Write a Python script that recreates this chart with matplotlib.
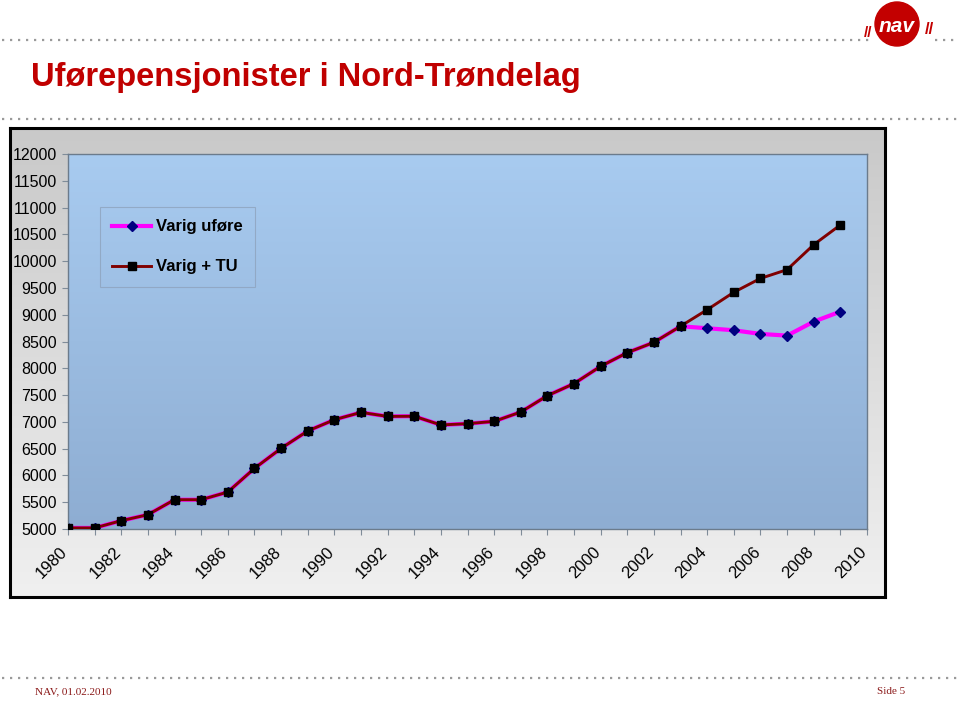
import matplotlib
matplotlib.use('Agg')
import matplotlib.pyplot as plt
import matplotlib.transforms as mtransforms
from matplotlib.patches import Circle
import numpy as np

# data
years = [1980, 1981, 1982, 1983, 1984, 1985, 1986, 1987, 1988, 1989,
         1990, 1991, 1992, 1993, 1994, 1995, 1996, 1997, 1998, 1999,
         2000, 2001, 2002, 2003, 2004, 2005, 2006, 2007, 2008, 2009]
varig_tu = [5020, 5020, 5155, 5267, 5547, 5547, 5690, 6131, 6505, 6830,
            7040, 7177, 7102, 7105, 6942, 6966, 7009, 7184, 7489, 7714,
            8037, 8292, 8484, 8785, 9094, 9419, 9678, 9841, 10307, 10676]
varig_ufore = [5020, 5020, 5155, 5267, 5547, 5547, 5690, 6131, 6505, 6830,
               7040, 7177, 7102, 7105, 6942, 6966, 7009, 7184, 7489, 7714,
               8037, 8292, 8484, 8785, 8747, 8710, 8641, 8610, 8871, 9058]
axis_years = [1980, 1981, 1982, 1983, 1984, 1985, 1986, 1987, 1988, 1989,
              1990, 1991, 1992, 1993, 1994, 1995, 1996, 1997, 1998, 1999,
              2000, 2001, 2002, 2003, 2004, 2005, 2006, 2007, 2008, 2009, 2010]
y_ticks = [5000, 5500, 6000, 6500, 7000, 7500, 8000, 8500, 9000, 9500,
           10000, 10500, 11000, 11500, 12000]

W, H = 959, 702
plt.rcParams['font.family'] = ['Liberation Sans', 'DejaVu Sans']

fig = plt.figure(figsize=(W / 100, H / 100), dpi=100)
fig.patch.set_facecolor('white')

def fx(px):
    return px / W

def fy(py):
    return 1 - py / H

#------------------------------------------- slide decoration -------------------------------------------
deco = fig.add_axes([0, 0, 1, 1], zorder=-5)
deco.set_xlim(0, W)
deco.set_ylim(H, 0)
deco.axis('off')

dots = dict(color='#9a9a9a', lw=1.6, ls=(0, (1, 2.6)))
deco.plot([2, 872], [40, 40], **dots)
deco.plot([935, 958], [40, 40], **dots)
deco.plot([2, 958], [119, 119], **dots)
deco.plot([2, 958], [678, 678], **dots)

# nav logo
deco.add_patch(Circle((897, 24), 22, color='#c30000', zorder=3))
deco.text(897, 27, 'nav', color='white', fontsize=15, fontweight='bold',
          ha='center', va='center', zorder=4, style='italic')
deco.text(868, 33, '//', color='#c30000', fontsize=11, fontweight='bold', ha='center', va='center')
deco.text(929, 30, '//', color='#c30000', fontsize=12, fontweight='bold', ha='center', va='center')

fig.text(fx(31), fy(86), 'Uførepensjonister i Nord-Trøndelag', color='#c00000',
         fontsize=23.5, fontweight='bold', va='baseline')

fig.text(fx(35), fy(692), 'NAV, 01.02.2010', color='#8b1a1a', fontsize=8,
         family=['Liberation Serif'], va='center')
fig.text(fx(877), fy(692), 'Side 5', color='#8b1a1a', fontsize=8,
         family=['Liberation Serif'], va='center')

#------------------------------------------- chart area -------------------------------------------
bg = fig.add_axes([fx(10), fy(597), fx(875), (597 - 128) / H], zorder=-2)
grad = np.linspace(0, 1, 256).reshape(-1, 1)
bg.imshow(grad, cmap=matplotlib.colors.LinearSegmentedColormap.from_list('g', ['#c9c9c9', '#f0f0f0']),
          aspect='auto', extent=[0, 1, 0, 1])
bg.set_xticks([])
bg.set_yticks([])
for s in bg.spines.values():
    s.set_linewidth(2.2)
    s.set_color('black')

ax = fig.add_axes([fx(68), fy(529), fx(799), 375 / H])
ax.set_xlim(1980, 2010)
ax.set_ylim(5000, 12000)
ax.imshow(grad[::-1], cmap=matplotlib.colors.LinearSegmentedColormap.from_list('b', ['#8eadd2', '#a8cbf0']),
          aspect='auto', extent=[1980, 2010, 5000, 12000], zorder=0)

ax.plot(years, varig_ufore, color='#ff00ff', lw=3.0, marker='D', ms=5.5,
        mfc='#000080', mec='#000080', label='Varig uføre', zorder=2)
ax.plot(years, varig_tu, color='#800000', lw=2.1, marker='s', ms=6,
        mfc='black', mec='black', label='Varig + TU', zorder=3)

ax.set_yticks(y_ticks)
ax.set_yticklabels([str(v) for v in y_ticks], fontsize=11.5)
ax.set_xticks(axis_years)
ax.set_xticklabels([str(y) if y % 2 == 0 else '' for y in axis_years], fontsize=12,
                   rotation=45, ha='right', va='top', rotation_mode='anchor')
ax.tick_params(axis='both', direction='out', length=4, color='#7f8c99', width=0.8)
ax.tick_params(axis='x', pad=7)
ax.tick_params(axis='y', pad=4)
shift = mtransforms.ScaledTranslation(-8 / 100, 0, fig.dpi_scale_trans)
for lab in ax.get_xticklabels():
    lab.set_transform(lab.get_transform() + shift)
for s in ax.spines.values():
    s.set_color('#6b7b8c')
    s.set_linewidth(1.0)

leg = ax.legend(loc='upper left', bbox_to_anchor=(0.04, 0.859), borderaxespad=0,
                prop={'weight': 'bold', 'size': 12}, frameon=True, fancybox=False,
                handlelength=2.3, labelspacing=1.5, borderpad=0.75, handletextpad=0.3)
leg.get_frame().set_facecolor('none')
leg.get_frame().set_edgecolor('#8ea3bd')
leg.get_frame().set_linewidth(0.8)

fig.savefig('out.png', dpi=100)
